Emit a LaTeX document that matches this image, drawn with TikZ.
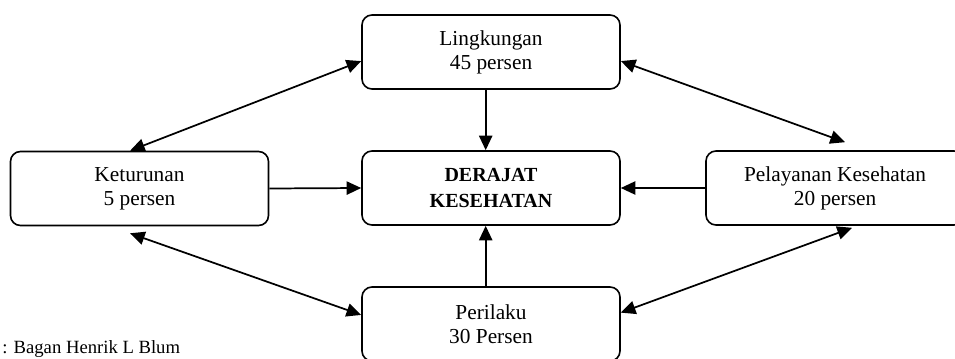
\documentclass[tikz,border=0pt]{standalone}
\usepackage{fontspec}
\setmainfont{Liberation Serif}
\usepackage{tikz}
\usetikzlibrary{positioning,calc,arrows.meta}
\tikzset{
  faktor/.style={draw, line width=1.2pt, rounded corners=7.5pt, align=center,
    minimum width=193.5pt, minimum height=55.5pt, inner sep=0pt,
    font=\fontsize{16}{18}\selectfont},
  pusat/.style={faktor, font=\fontsize{15}{20}\selectfont\bfseries},
  panah/.style={line width=1.3pt, -{Triangle[length=11pt,width=10pt]}},
  duapanah/.style={line width=1.3pt, {Triangle[length=11pt,width=10pt]}-{Triangle[length=11pt,width=10pt]}}
}

\begin{document}
\begin{tikzpicture}[x=0.75pt,y=0.75pt]
        \useasboundingbox (0,0) rectangle (955,358);

        % Boxes
        \node[pusat] (derajat) at (491,170) {DERAJAT\\KESEHATAN};
        \node[faktor] (lingk) at (491,306) {Lingkungan\\45 persen};
        \node[faktor] (ketur) at (139.5,169.5) {Keturunan\\5 persen};
        \node[faktor] (pelay) at (835,170) {Pelayanan Kesehatan\\20 persen};
        \node[faktor] (prlk) at (491,34) {Perilaku\\30 Persen};

        % Into the centre
        \draw[panah] (lingk.262) -- (derajat.98);
        \draw[panah] (ketur.east) -- (derajat.west);
        \draw[panah] (pelay.west) -- (derajat.east);
        \draw[panah] (prlk.98) -- (derajat.262);

        % Between the factors
        \draw[duapanah] (lingk.184) -- (ketur.104);
        \draw[duapanah] (lingk.356) -- ($(pelay.north)+(10,8)$);
        \draw[duapanah] ($(ketur.south)+(-9.5,-7)$) -- (prlk.176);
        \draw[duapanah] ($(pelay.south)+(17,-2)$) -- (prlk.5);

        % Caption
        \node[anchor=base west, inner sep=0pt, font=\fontsize{14}{16}\selectfont] (ket) at (2,5) {: Bagan Henrik L Blum};
      \end{tikzpicture}
\end{document}
